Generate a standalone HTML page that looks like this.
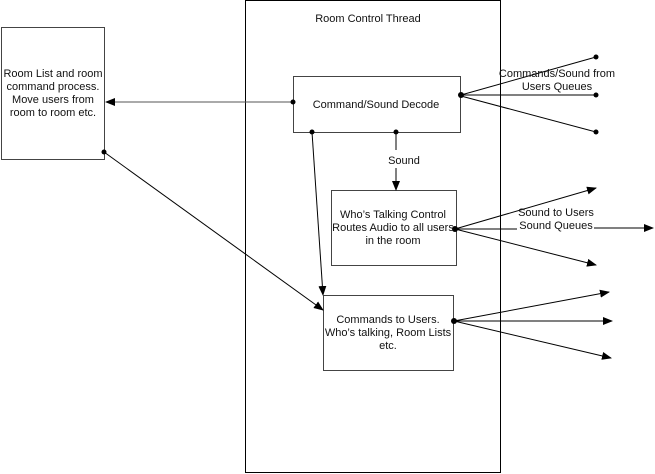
<!DOCTYPE html>
<html><head><style>body{margin:0;background:#fff}svg{display:block}text{font-family:"Liberation Sans",sans-serif;font-size:11px;fill:#111}</style></head>
<body>
<svg width="655" height="474" viewBox="0 0 655 474" xmlns="http://www.w3.org/2000/svg">
<defs><marker id="a" markerWidth="10" markerHeight="8" refX="9" refY="4" orient="auto" markerUnits="userSpaceOnUse"><path d="M0,0L10,4L0,8z" fill="#000"/></marker></defs>
<g fill="none" stroke="#000" stroke-width="1">
<rect x="245.5" y="0.5" width="255" height="472"/>
<rect x="1.5" y="27.5" width="103" height="132" stroke="#444"/>
<rect x="293.5" y="76.5" width="167" height="56" stroke="#444"/>
<rect x="331.5" y="190.5" width="125" height="75" stroke="#444"/>
<rect x="323.5" y="295.5" width="130" height="75" stroke="#444"/>
<line x1="293" y1="102" x2="106" y2="102" stroke="#555" marker-end="url(#a)"/>
<line x1="104" y1="152" x2="323" y2="310" marker-end="url(#a)"/>
<line x1="312" y1="132" x2="323" y2="295" marker-end="url(#a)"/>
<line x1="396" y1="132" x2="396" y2="150"/>
<line x1="396" y1="168" x2="396" y2="190" marker-end="url(#a)"/>
<line x1="596" y1="57" x2="461" y2="95"/>
<line x1="596" y1="95" x2="461" y2="95"/>
<line x1="596" y1="132" x2="461" y2="96"/>
<line x1="455" y1="229" x2="596" y2="188" marker-end="url(#a)"/>
<line x1="455" y1="229" x2="517" y2="229"/>
<line x1="594" y1="228" x2="653" y2="228" marker-end="url(#a)"/>
<line x1="455" y1="229" x2="596" y2="265" marker-end="url(#a)"/>
<line x1="454" y1="321" x2="609" y2="292" marker-end="url(#a)"/>
<line x1="454" y1="321" x2="612" y2="321" marker-end="url(#a)"/>
<line x1="454" y1="321" x2="611" y2="358" marker-end="url(#a)"/>
</g>
<g fill="#000">
<circle cx="293" cy="102" r="2.5"/><circle cx="104" cy="152" r="2.5"/><circle cx="312" cy="132" r="2.5"/><circle cx="396" cy="132" r="2.5"/>
<circle cx="596" cy="57" r="2.5"/><circle cx="596" cy="95" r="2.5"/><circle cx="596" cy="132" r="2.5"/><circle cx="461" cy="95" r="3"/>
<circle cx="455" cy="229" r="3"/><circle cx="454" cy="321" r="3"/>
</g>
<text x="368" y="22" text-anchor="middle">Room Control Thread</text>
<text x="53" y="77" text-anchor="middle">Room List and room</text>
<text x="53" y="90" text-anchor="middle">command process.</text>
<text x="53" y="103" text-anchor="middle">Move users from</text>
<text x="53" y="116" text-anchor="middle">room to room etc.</text>
<text x="376" y="108" text-anchor="middle">Command/Sound Decode</text>
<text x="404" y="164" text-anchor="middle">Sound</text>
<text x="393" y="218" text-anchor="middle">Who’s Talking Control</text>
<text x="393" y="231" text-anchor="middle">Routes Audio to all users</text>
<text x="393" y="244" text-anchor="middle">in the room</text>
<text x="388" y="323" text-anchor="middle">Commands to Users.</text>
<text x="388" y="336" text-anchor="middle">Who’s talking, Room Lists</text>
<text x="388" y="349" text-anchor="middle">etc.</text>
<text x="557" y="77" text-anchor="middle">Commands/Sound from</text>
<text x="557" y="90" text-anchor="middle">Users Queues</text>
<text x="556" y="216" text-anchor="middle">Sound to Users</text>
<text x="556" y="229" text-anchor="middle">Sound Queues</text>
</svg>
</body></html>
